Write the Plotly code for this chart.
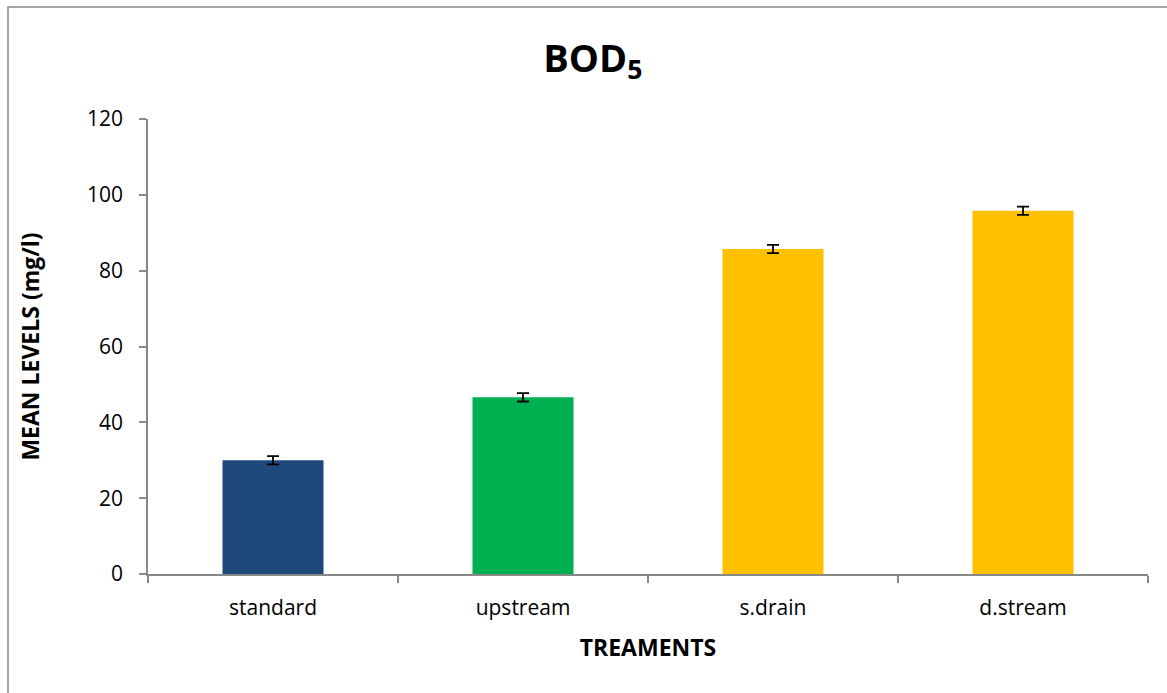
import plotly.graph_objects as go

categories = ["standard", "upstream", "s.drain", "d.stream"]
values = [30.0, 46.6, 85.7, 95.8]
errors = [1.1, 1.1, 1.1, 1.1]
colors = ["#1F497D", "#00B050", "#FFC000", "#FFC000"]

FONT = "'Open Sans', Carlito, Calibri, sans-serif"
AXIS_COLOR = "#888888"

fig = go.Figure()
fig.add_trace(go.Bar(
    x=categories, y=values,
    marker=dict(color=colors, line=dict(width=0)),
    width=0.404,
    error_y=dict(type="data", array=errors, visible=True, color="black", thickness=1.8, width=6),
))

fig.update_layout(
    width=1167, height=693,
    margin=dict(l=148, r=19, t=119, b=119),
    paper_bgcolor="white", plot_bgcolor="white",
    showlegend=False,
    font=dict(family=FONT, size=21, color="black"),
    title=dict(text="<b>BOD<sub>5</sub></b>", x=0.508, xanchor="center", y=0.916, yanchor="middle",
               yref="container", font=dict(family=FONT, size=38, color="black")),
    xaxis=dict(
        type="category", range=[-0.5, 3.5], tickson="boundaries",
        ticks="outside", ticklen=7, tickcolor=AXIS_COLOR, tickwidth=1.5,
        showline=True, linecolor=AXIS_COLOR, linewidth=1.5,
        showgrid=False, zeroline=False,
        tickfont=dict(family=FONT, size=21), ticklabelstandoff=14,
        title=dict(text="<b>TREAMENTS</b>", font=dict(family=FONT, size=23), standoff=20),
    ),
    yaxis=dict(
        range=[0, 120], dtick=20, tick0=0,
        ticks="outside", ticklen=7, tickcolor=AXIS_COLOR, tickwidth=1.5,
        showline=True, linecolor=AXIS_COLOR, linewidth=1.5,
        showgrid=False, zeroline=False,
        tickfont=dict(family=FONT, size=21), ticklabelstandoff=12,
        title=dict(text="<b>MEAN LEVELS (mg/l)</b>", font=dict(family=FONT, size=23), standoff=41),
    ),
    shapes=[dict(type="rect", xref="paper", yref="paper", x0=-0.14, x1=1.2, y0=-0.4, y1=1.246,
                 line=dict(color=AXIS_COLOR, width=1.5), fillcolor="rgba(0,0,0,0)", layer="below")],
)

fig.write_html("out.html", config={"displayModeBar": False},
               post_script="document.body.style.margin='0px';")
